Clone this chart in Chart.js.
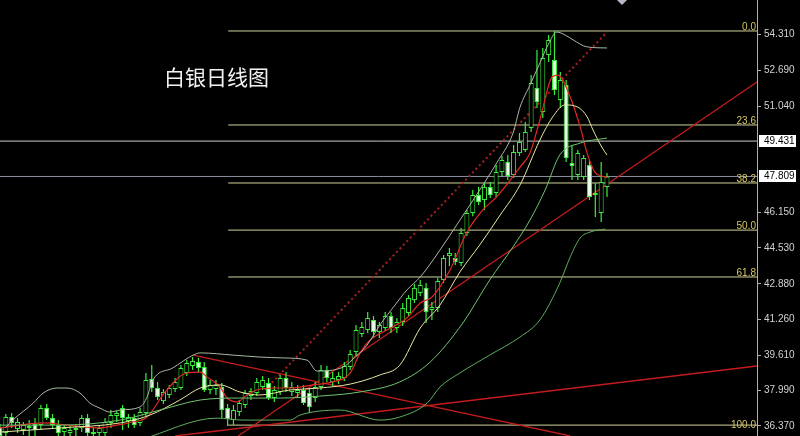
<!DOCTYPE html>
<html>
<head>
<meta charset="utf-8">
<title>白银日线图</title>
<script src="https://cdn.jsdelivr.net/npm/chart.js@4.4.0/dist/chart.umd.min.js"></script>
<style>
  html, body { margin: 0; padding: 0; background: #000; }
  canvas { display: block; }
</style>
</head>
<body>
<canvas id="chart" width="800" height="436"></canvas>
<script>
// daily candles, oldest first
const opens = [
  36.32, 36.05, 36.78, 36.23, 36.18, 36.28, 36.46, 36.41, 37.19, 36.73,
  36.41, 36.09, 36.05, 36.18, 36.28, 36.73, 36.00, 36.05, 36.05, 36.51,
  36.83, 37.19, 36.60, 36.73, 36.51, 36.96, 38.52, 38.11, 37.51, 37.79,
  38.06, 38.11, 38.80, 39.12, 39.30, 39.07, 38.02, 38.06, 38.16, 37.19,
  36.64, 37.01, 37.33, 37.74, 37.88, 38.16, 38.34, 37.65, 37.93, 38.57,
  37.93, 37.88, 38.02, 37.88, 37.65, 38.16, 38.94, 38.39, 38.48, 38.57,
  39.07, 39.76, 40.59, 40.77, 41.23, 40.68, 40.86, 41.41, 40.86, 41.14,
  41.55, 42.14, 42.47, 42.70, 41.69, 41.78, 43.06, 44.16, 44.07, 43.84,
  45.22, 46.13, 46.96, 46.73, 47.33, 47.05, 48.01, 48.47, 47.88, 48.88,
  49.02, 50.03, 51.87, 50.76, 53.38, 53.15, 51.31, 52.00, 48.43, 47.88,
  47.78, 48.33, 47.05, 46.13, 47.33
];
const highs = [
  36.46, 36.92, 36.96, 36.73, 36.55, 36.64, 36.73, 37.33, 37.38, 36.92,
  36.64, 36.41, 36.37, 36.46, 36.87, 36.92, 36.28, 36.41, 36.73, 37.10,
  37.06, 37.33, 36.92, 36.92, 37.19, 38.80, 39.16, 38.39, 38.06, 38.25,
  38.57, 39.16, 39.39, 39.53, 39.49, 39.30, 38.48, 38.48, 38.34, 37.38,
  37.33, 37.56, 38.02, 38.11, 38.57, 38.66, 38.57, 38.20, 38.71, 38.84,
  38.39, 38.25, 38.25, 38.11, 38.39, 39.16, 39.12, 38.84, 38.84, 39.30,
  39.85, 41.00, 41.14, 41.60, 41.41, 41.14, 41.60, 41.60, 41.32, 42.01,
  42.37, 42.88, 43.06, 42.92, 42.05, 43.15, 44.21, 44.53, 44.30, 45.45,
  46.27, 47.19, 47.33, 47.51, 47.56, 48.33, 48.75, 48.79, 49.25, 49.80,
  50.31, 52.46, 53.61, 53.70, 54.30, 54.48, 52.60, 52.23, 49.25, 49.02,
  48.79, 48.56, 47.51, 48.47, 47.97
];
const lows = [
  35.73, 35.82, 36.28, 36.05, 35.96, 35.91, 35.91, 36.18, 36.64, 36.28,
  35.91, 35.82, 35.82, 35.91, 36.09, 35.91, 35.73, 35.82, 35.91, 36.28,
  36.55, 36.18, 36.28, 36.28, 36.37, 36.83, 37.93, 37.56, 37.38, 37.65,
  37.93, 38.02, 38.66, 38.94, 38.84, 37.93, 37.84, 37.79, 36.73, 36.37,
  36.41, 36.83, 37.19, 37.56, 37.74, 38.02, 37.56, 37.47, 37.79, 37.93,
  37.74, 37.65, 37.33, 36.96, 37.47, 38.02, 38.39, 38.20, 38.29, 38.43,
  38.94, 39.58, 40.45, 40.63, 40.40, 40.40, 40.72, 40.63, 40.63, 40.95,
  41.41, 42.01, 42.33, 41.09, 41.23, 41.60, 42.92, 43.70, 43.75, 43.70,
  45.08, 45.99, 46.50, 46.27, 46.82, 46.87, 47.83, 47.65, 47.74, 48.75,
  48.93, 49.85, 50.95, 50.49, 53.06, 51.54, 50.95, 48.47, 47.65, 47.65,
  47.65, 46.73, 45.95, 45.72, 46.87
];
const closes = [
  35.91, 36.78, 36.51, 36.55, 36.41, 36.37, 36.18, 37.19, 36.73, 36.41,
  36.05, 36.28, 36.18, 36.28, 36.73, 36.05, 36.09, 36.28, 36.55, 36.87,
  36.96, 36.73, 36.78, 36.41, 37.01, 38.48, 38.11, 37.70, 37.93, 38.11,
  38.39, 39.03, 39.26, 39.35, 39.03, 38.02, 38.25, 38.25, 37.10, 36.69,
  37.10, 37.42, 37.88, 37.97, 38.39, 38.48, 37.65, 38.02, 38.57, 38.11,
  38.16, 38.02, 37.42, 37.24, 38.16, 38.94, 38.57, 38.57, 38.66, 39.12,
  39.67, 40.77, 40.91, 41.32, 40.68, 41.00, 41.41, 40.86, 41.14, 41.78,
  42.24, 42.70, 42.83, 41.60, 41.82, 43.02, 44.07, 44.30, 43.89, 45.22,
  46.13, 46.96, 46.64, 47.33, 46.96, 48.01, 48.56, 47.83, 48.93, 49.39,
  49.85, 52.09, 51.22, 53.24, 54.07, 51.77, 52.23, 48.66, 48.29, 48.88,
  48.66, 46.87, 46.96, 47.56, 47.81
];

// price scale
const yTicks = [36.370, 37.990, 39.610, 41.260, 42.880, 44.530, 46.150, 51.040, 52.690, 54.310];
const priceTags = [49.431, 47.809];
const yMin = 35.91, yMax = 55.90;
const lastSlot = 129.7;

// fibonacci retracement
const fibLabels = ['0.0', '23.6', '38.2', '50.0', '61.8', '100.0'];
const fibPrices = [54.48, 50.17, 47.51, 45.35, 43.20, 36.41];
const fibStart = 39.1;

// indicator lines as [bar index, price]
const maFast = [[0,36.28],[7.4,36.51],[11.5,36.41],[14.9,36.32],[17.1,36.28],[20,36.41],[22.8,36.55],[25.2,36.78],[28.3,37.93],[32,38.8],[34.3,38.84],[35.5,38.61],[37.7,38.16],[38.9,37.65],[40.6,37.47],[42.3,37.79],[44,38.02],[46.8,38.11],[49.7,38.11],[53.6,38.25],[57,38.39],[60,38.8],[61.7,39.72],[63.4,40.31],[66.3,40.77],[69.7,41.32],[72,42.01],[74,42.28],[77.1,43.52],[80,45.26],[82.7,46.27],[85.1,46.87],[89.1,48.24],[90.8,48.88],[92.5,50.4],[94.6,52.37],[95.6,52.46],[97.7,51.45],[99.4,50.08],[100.6,48.88],[101.9,48.01],[103.1,47.83],[104,47.78]];
const maSlow = [[0,36.09],[10.3,36.28],[20.6,36.51],[25.7,36.87],[30.8,37.56],[34.3,38.11],[37.7,38.25],[41.1,37.93],[44.5,37.79],[49.7,38.02],[54.8,38.11],[60,38.29],[65.1,38.71],[68.5,39.16],[72,40.86],[75.4,41.92],[78.8,43.43],[82.2,44.67],[85.7,46.04],[89.1,47.42],[92.5,49.48],[94.7,50.54],[96.8,51.09],[99,50.99],[100.6,50.54],[101.6,49.94],[103.1,49.16],[104,48.79]];
const bandMid = [[0,36.41],[10.3,36.41],[20.6,36.64],[27.4,37.1],[34.3,37.56],[41.1,37.65],[48,37.65],[54.8,37.74],[61.7,37.93],[68.5,38.39],[73.7,39.3],[79.3,41.09],[83.9,43.06],[87.9,44.58],[90.8,45.81],[93.4,47.19],[95.9,48.79],[99.4,49.34],[104,49.57]];
const bandUp = [[0.9,36.28],[2.2,36.64],[5.7,37.42],[7.4,37.88],[9.8,38.11],[11.5,38.11],[13.7,37.88],[15.4,37.42],[17.1,37.19],[18.8,37.01],[20.6,37.1],[24,37.24],[25.2,37.7],[26.2,38.48],[29.6,39.03],[33.1,39.62],[34.3,39.72],[39.9,39.62],[44.5,39.53],[48.5,39.49],[52.6,39.39],[54.3,38.89],[58.8,39.07],[60.3,39.39],[62.9,40.08],[65.1,41],[67.7,41.92],[69.7,42.6],[72,43.2],[75.4,44.44],[78.8,45.81],[82.2,47.19],[85.1,48.43],[87.9,49.8],[89.1,50.99],[90.8,52],[92.5,53.01],[93.9,53.84],[95.4,54.43],[96.8,54.3],[98.2,54.07],[100.6,53.75],[104,53.7]];
const bandLow = [[24,35.73],[37.2,36.73],[41.6,36.64],[49.7,36.64],[51.4,36.87],[58.2,37.1],[65.1,36.64],[68.5,36.78],[73.2,37.42],[75.4,38.16],[78.8,38.8],[83.9,39.62],[89.1,40.45],[92.5,41.23],[95.9,42.92],[97.7,44.12],[99.4,44.99],[101.1,45.26],[103.7,45.4]];

// hand drawn trend lines, [start, end]
const trendUp = [[40.8,35.91],[129.7,52.14]];
const trendChannel = [[45.4,38.02],[104,54.43]];
const trendDown = [[33.1,39.62],[97.7,35.91]];
const trendFlat = [[30,35.91],[129.7,39.12]];

const idx = opens.map((_, i) => i);
const pts = arr => arr.map(p => ({ x: p[0], y: p[1] }));

function line(data, color, width, extra) {
    return Object.assign({
        type: 'line', data: pts(data), borderColor: color, borderWidth: width,
        pointRadius: 0, fill: false, cubicInterpolationMode: 'monotone', order: 0
    }, extra || {});
}

const datasets = [];

// fib levels and price lines sit under everything
fibPrices.forEach(p => datasets.push(line([[fibStart, p], [lastSlot, p]], '#d2d29a', 1, { order: 5 })));
datasets.push(line([[0, priceTags[0]], [lastSlot, priceTags[0]]], '#cacaca', 1, { order: 5 }));
datasets.push(line([[0, priceTags[1]], [lastSlot, priceTags[1]]], '#8a8f9c', 1, { order: 5 }));

// trend lines
datasets.push(line(trendUp, '#c41c1c', 1.3, { order: 4 }));
datasets.push(line(trendDown, '#c41c1c', 1.3, { order: 4 }));
datasets.push(line(trendFlat, '#c41c1c', 1.3, { order: 4 }));
datasets.push(line(trendChannel, '#a82222', 2, { order: 4, borderDash: [2, 3] }));

// candles
datasets.push({
    type: 'bar', order: 1,
    data: idx.map(i => ({ x: i, y: [opens[i], closes[i]] })),
    backgroundColor: idx.map(i => closes[i] >= opens[i] ? '#000000' : '#e4ffe4'),
    borderColor: '#3af03a', borderWidth: 1, borderSkipped: false,
    barThickness: 5, grouped: false, inflateAmount: 0
});
datasets.push({
    type: 'bar', order: 2,
    data: idx.map(i => ({ x: i, y: [lows[i], highs[i]] })),
    backgroundColor: '#3af03a', borderWidth: 0,
    barThickness: 1.2, grouped: false, inflateAmount: 0
});

// indicators on top
datasets.push(line(bandUp, '#a9b9a4', 1));
datasets.push(line(bandLow, '#5fae5f', 1));
datasets.push(line(bandMid, '#6fc46f', 1));
datasets.push(line(maSlow, '#ebe8a0', 1));
datasets.push(line(maFast, '#e42626', 1.2));

const overlay = {
    id: 'overlay',
    afterDraw(chart) {
        const ctx = chart.ctx;
        const y = chart.scales.y;
        const area = chart.chartArea;
        ctx.save();

        // title
        ctx.fillStyle = '#f2f2f2';
        ctx.font = '21px "Noto Sans CJK SC"';
        ctx.textBaseline = 'middle';
        ctx.textAlign = 'left';
        ctx.fillText('白银日线图', 164, 77);

        // fib level labels
        ctx.font = '10px "Liberation Sans"';
        ctx.fillStyle = '#d6c860';
        ctx.textAlign = 'right';
        ctx.textBaseline = 'alphabetic';
        fibPrices.forEach((p, i) => {
            const py = y.getPixelForValue(p);
            const off = i === fibPrices.length - 1 ? 3 : -1;
            ctx.fillText(fibLabels[i], area.right - 1, py + off);
        });

        // boxed price tags
        ctx.textAlign = 'left';
        ctx.textBaseline = 'middle';
        priceTags.forEach(p => {
            const py = Math.round(y.getPixelForValue(p));
            ctx.fillStyle = '#ffffff';
            ctx.fillRect(759, py - 6, 37, 12);
            ctx.fillStyle = '#000000';
            ctx.fillText(p.toFixed(3), 764, py + 0.5);
        });

        // small marker at the top
        ctx.fillStyle = '#b8b8c8';
        ctx.beginPath();
        ctx.moveTo(617, 0);
        ctx.lineTo(627, 0);
        ctx.lineTo(622, 5);
        ctx.closePath();
        ctx.fill();

        ctx.restore();
    }
};

new Chart(document.getElementById('chart'), {
    type: 'bar',
    data: { datasets: datasets },
    options: {
        responsive: false,
        animation: false,
        events: [],
        layout: { padding: 0 },
        plugins: { legend: { display: false }, tooltip: { enabled: false } },
        scales: {
            x: { type: 'linear', min: 0, max: lastSlot, offset: false, display: false },
            y: {
                position: 'right',
                min: yMin,
                max: yMax,
                afterFit(scale) {
                    scale.width = 43;
                    scale.paddingTop = 0;
                    scale.paddingBottom = 0;
                },
                afterBuildTicks(scale) {
                    scale.ticks = yTicks.map(v => ({ value: v }));
                },
                ticks: {
                    color: '#d2d2d2',
                    font: { family: 'Liberation Sans', size: 10 },
                    padding: 3,
                    autoSkip: false,
                    callback: v => Number(v).toFixed(3)
                },
                grid: { display: true, drawOnChartArea: false, drawTicks: true, tickLength: 4, color: '#b0b0b0' },
                border: { display: true, color: '#b0b0b0' }
            }
        }
    },
    plugins: [overlay]
});
</script>
</body>
</html>
